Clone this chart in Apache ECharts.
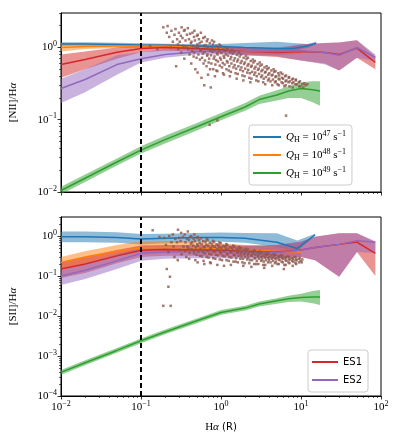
<!DOCTYPE html>
<html>
<head>
<meta charset="utf-8">
<script src="https://cdn.jsdelivr.net/npm/echarts@6/dist/echarts.min.js"></script>
<style>html,body{margin:0;padding:0;background:#fff}#chart{width:398px;height:443px}</style>
</head>
<body>
<div id="chart"></div>
<script>
// ---- axis ticks ----
var xTicks = [0.01, 0.1, 1, 10, 100];
var xMinor = [0.02,0.03,0.04,0.05,0.06,0.07,0.08,0.09,0.2,0.3,0.4,0.5,0.6,0.7,0.8,0.9,2,3,4,5,6,7,8,9,20,30,40,50,60,70,80,90];
var yTicksTop = [0.01, 0.1, 1];
var yMinorTop = [0.02,0.03,0.04,0.05,0.06,0.07,0.08,0.09,0.2,0.3,0.4,0.5,0.6,0.7,0.8,0.9,2,3];
var yTicksBot = [0.0001, 0.001, 0.01, 0.1, 1];
var yMinorBot = [0.0002,0.0003,0.0004,0.0005,0.0006,0.0007,0.0008,0.0009,0.002,0.003,0.004,0.005,0.006,0.007,0.008,0.009,
  0.02,0.03,0.04,0.05,0.06,0.07,0.08,0.09,0.2,0.3,0.4,0.5,0.6,0.7,0.8,0.9,2,3];
var dashX = 0.1;

// ---- top panel: [NII]/Ha ----
var nQ47x  = [0.01,0.02,0.05,0.1,0.2,0.5,1,2,5,8,12,15.5];
var nQ47   = [1.12,1.12,1.1,1.08,1.07,1.05,1.03,1.0,0.97,0.97,1.05,1.15];
var nQ47lo = [1.06,1.06,1.05,1.03,1.0,0.97,0.94,0.9,0.88,0.9,0.98,1.1];
var nQ47hi = [1.18,1.18,1.16,1.14,1.13,1.12,1.12,1.15,1.2,1.15,1.12,1.2];

var nQ48x  = [0.01,0.02,0.05,0.1,0.2,0.5,1,2,5,10];
var nQ48   = [1.0,1.03,1.05,1.05,1.05,1.0,0.95,0.88,0.85,0.88];
var nQ48lo = [0.88,0.95,0.98,0.99,0.98,0.93,0.87,0.8,0.78,0.82];
var nQ48hi = [1.15,1.12,1.1,1.1,1.1,1.08,1.05,1.0,0.97,0.98];

var nQ49x  = [0.01,0.02,0.05,0.1,0.2,0.5,1,2,3,5,7,10,14,17.3];
var nQ49   = [0.0105,0.0155,0.026,0.038,0.053,0.08,0.11,0.15,0.19,0.22,0.25,0.27,0.26,0.25];
var nQ49lo = [0.0093,0.0138,0.0232,0.034,0.047,0.071,0.098,0.133,0.165,0.185,0.2,0.2,0.175,0.156];
var nQ49hi = [0.0118,0.0174,0.029,0.043,0.06,0.09,0.124,0.17,0.215,0.255,0.29,0.33,0.34,0.34];

var nESx    = [0.01,0.02,0.05,0.1,0.2,0.5,1,2,5,10,20,30,50,85];
var nES1    = [0.58,0.68,0.86,0.97,1.0,0.97,0.93,0.88,0.85,0.88,0.85,0.8,0.98,0.62];
var nES1lo  = [0.38,0.5,0.7,0.86,0.9,0.88,0.83,0.78,0.74,0.66,0.6,0.48,0.72,0.5];
var nES1hi  = [0.8,0.88,1.0,1.08,1.1,1.06,1.02,0.98,0.96,1.1,1.15,1.17,1.26,0.75];
var nES2    = [0.27,0.36,0.58,0.7,0.8,0.87,0.89,0.88,0.88,0.9,0.85,0.78,1.0,0.73];
var nES2lo  = [0.17,0.24,0.42,0.62,0.72,0.8,0.8,0.78,0.76,0.66,0.58,0.48,0.72,0.65];
var nES2hi  = [0.37,0.5,0.78,0.86,0.95,0.98,1.0,1.0,1.0,1.1,1.15,1.17,1.26,0.8];

// ---- bottom panel: [SII]/Ha ----
var sQ47x  = [0.01,0.02,0.05,0.1,0.2,0.5,1,2,5,9,15];
var sQ47   = [0.96,0.96,0.92,0.84,0.88,0.92,0.92,0.88,0.7,0.49,1.08];
var sQ47lo = [0.7,0.7,0.68,0.62,0.66,0.7,0.72,0.68,0.53,0.42,1.0];
var sQ47hi = [1.3,1.3,1.25,1.12,1.15,1.2,1.22,1.2,1.17,0.78,1.15];

var sQ48x  = [0.01,0.02,0.05,0.1,0.2,0.5,1,2,5,10];
var sQ48   = [0.22,0.3,0.42,0.5,0.52,0.5,0.48,0.45,0.42,0.4];
var sQ48lo = [0.15,0.21,0.32,0.4,0.42,0.4,0.38,0.35,0.32,0.3];
var sQ48hi = [0.3,0.42,0.6,0.74,0.75,0.7,0.65,0.6,0.55,0.5];

var sQ49x  = [0.01,0.02,0.05,0.1,0.2,0.5,1,2,3,5,7,10,14,17.3];
var sQ49   = [0.00039,0.00068,0.00138,0.0024,0.004,0.0076,0.0123,0.0158,0.02,0.024,0.027,0.029,0.03,0.03];
var sQ49lo = [0.00034,0.00059,0.0012,0.0021,0.0035,0.0066,0.0107,0.0137,0.0172,0.0203,0.0225,0.0232,0.021,0.019];
var sQ49hi = [0.00045,0.00078,0.00158,0.00275,0.0046,0.0087,0.0141,0.018,0.0232,0.028,0.032,0.036,0.042,0.045];

var sESx   = [0.01,0.02,0.05,0.1,0.2,0.5,1,2,5,10,15,30,50,85];
var sES1   = [0.15,0.2,0.32,0.44,0.46,0.45,0.44,0.42,0.4,0.45,0.52,0.62,0.71,0.37];
var sES1lo = [0.09,0.12,0.21,0.3,0.32,0.32,0.31,0.3,0.28,0.3,0.25,0.096,0.4,0.1];
var sES1hi = [0.22,0.3,0.45,0.58,0.6,0.6,0.6,0.58,0.6,0.72,0.96,1.17,1.17,0.71];
var sES2   = [0.1,0.14,0.24,0.37,0.4,0.41,0.41,0.4,0.39,0.45,0.52,0.62,0.76,0.7];
var sES2lo = [0.06,0.085,0.15,0.24,0.27,0.28,0.28,0.27,0.27,0.3,0.25,0.096,0.4,0.38];
var sES2hi = [0.14,0.2,0.35,0.5,0.53,0.55,0.55,0.55,0.6,0.72,0.96,1.17,1.17,0.74];

// ---- observed points [Ha, ratio] ----
var nObs = [
[0.19,1.9],[0.21,1.6],[0.215,1.98],[0.225,1.4],[0.235,1.0],[0.24,1.7],[0.262,1.5],[0.25,1.2],
[0.27,1.8],[0.283,1.3],[0.29,1.1],[0.275,0.55],[0.298,1.6],[0.315,1.45],[0.305,1.2],[0.292,0.95],
[0.322,1.9],[0.345,1.7],[0.33,1.35],[0.338,1.05],[0.318,0.85],[0.352,1.75],[0.375,1.5],[0.36,1.25],[0.368,1.0],[0.348,0.7],
[0.385,1.85],[0.41,1.55],[0.398,1.3],[0.42,1.15],[0.39,0.95],[0.405,0.8],
[0.425,0.6],[0.455,0.75],[0.435,0.9],[0.448,1.05],[0.428,1.2],[0.46,1.4],[0.44,1.6],
[0.465,1.7],[0.5,1.45],[0.472,1.25],[0.505,1.1],[0.485,0.98],[0.462,0.85],[0.495,0.72],[0.478,0.5],
[0.51,0.45],[0.545,0.68],[0.522,0.8],[0.552,0.9],[0.515,1.02],[0.54,1.15],[0.53,1.3],[0.512,1.5],
[0.56,1.6],[0.6,1.35],[0.572,1.2],[0.61,1.05],[0.565,0.93],[0.592,0.82],[0.58,0.72],[0.605,0.6],[0.57,0.38],
[0.618,0.3],[0.66,0.55],[0.63,0.66],[0.67,0.77],[0.622,0.86],[0.652,0.96],[0.64,1.08],[0.665,1.22],[0.628,1.4],
[0.68,1.3],[0.725,1.15],[0.69,1.0],[0.735,0.9],[0.678,0.8],[0.712,0.7],[0.7,0.62],[0.73,0.5],[0.688,0.42],
[0.745,0.28],[0.8,0.5],[0.758,0.6],[0.81,0.7],[0.75,0.78],[0.785,0.87],[0.77,0.97],[0.795,1.1],[0.77,1.25],
[0.82,1.2],[0.88,1.05],[0.835,0.93],[0.89,0.83],[0.828,0.75],[0.868,0.67],[0.85,0.58],[0.875,0.48],[0.84,0.4],
[0.9,0.47],[0.965,0.56],[0.915,0.64],[0.975,0.72],[0.905,0.8],[0.945,0.88],[0.93,0.98],[0.955,1.1],
[0.99,1.05],[1.07,0.94],[1.01,0.84],[1.08,0.76],[1.0,0.68],[1.05,0.61],[1.03,0.53],[1.06,0.44],
[1.09,0.42],[1.17,0.5],[1.11,0.58],[1.185,0.65],[1.1,0.72],[1.15,0.8],[1.13,0.9],[1.165,1.0],
[1.2,0.95],[1.3,0.86],[1.225,0.77],[1.31,0.69],[1.21,0.62],[1.27,0.55],[1.25,0.48],[1.29,0.4],
[1.33,0.46],[1.43,0.53],[1.35,0.6],[1.445,0.66],[1.34,0.74],[1.4,0.82],[1.38,0.92],
[1.47,0.88],[1.58,0.79],[1.49,0.71],[1.595,0.64],[1.48,0.57],[1.545,0.51],[1.52,0.44],[1.57,0.37],
[1.62,0.43],[1.745,0.49],[1.65,0.55],[1.76,0.61],[1.635,0.68],[1.71,0.75],[1.68,0.85],
[1.78,0.8],[1.92,0.72],[1.815,0.65],[1.94,0.59],[1.8,0.53],[1.88,0.47],[1.85,0.41],[1.9,0.35],
[1.97,0.4],[2.13,0.45],[2.01,0.51],[2.15,0.56],[1.99,0.62],[2.08,0.69],[2.05,0.76],
[2.17,0.72],[2.35,0.65],[2.21,0.59],[2.37,0.54],[2.19,0.49],[2.3,0.44],[2.26,0.38],[2.33,0.33],
[2.4,0.37],[2.6,0.42],[2.45,0.46],[2.62,0.51],[2.42,0.56],[2.54,0.62],[2.5,0.68],
[2.65,0.65],[2.87,0.59],[2.7,0.54],[2.9,0.49],[2.68,0.45],[2.8,0.4],[2.76,0.35],
[2.93,0.34],[3.17,0.39],[2.99,0.43],[3.2,0.47],[2.96,0.51],[3.1,0.56],[3.05,0.62],
[3.24,0.58],[3.5,0.53],[3.3,0.49],[3.54,0.45],[3.27,0.41],[3.42,0.37],[3.37,0.33],
[3.57,0.31],[3.87,0.35],[3.65,0.39],[3.9,0.42],[3.61,0.46],[3.78,0.5],[3.72,0.55],
[3.94,0.52],[4.26,0.48],[4.02,0.44],[4.3,0.41],[3.98,0.37],[4.16,0.34],
[4.37,0.3],[4.73,0.33],[4.46,0.36],[4.78,0.39],[4.41,0.42],[4.62,0.46],[4.55,0.5],
[4.8,0.47],[5.2,0.44],[4.9,0.4],[5.25,0.37],[4.85,0.34],[5.08,0.31],
[5.28,0.3],[5.72,0.33],[5.39,0.36],[5.78,0.38],[5.34,0.41],[5.58,0.45],
[5.86,0.43],[6.34,0.4],[5.98,0.37],[6.4,0.34],[5.92,0.32],[6.2,0.29],
[6.43,0.3],[6.97,0.33],[6.57,0.35],[7.03,0.38],[6.5,0.41],
[7.1,0.39],[7.7,0.36],[7.25,0.34],[7.77,0.32],[7.18,0.29],
[7.87,0.28],[8.53,0.31],[8.04,0.33],[8.6,0.35],[7.95,0.37],
[8.64,0.36],[9.36,0.33],[8.82,0.31],[9.45,0.29],
[9.7,0.34],[10.4,0.31],[9.85,0.29],[11,0.32],[11.4,0.3],[12,0.31],[10.7,0.28],
[6.5,0.114],[0.72,0.085],[0.9,0.098],[0.13,1.05],[0.16,0.95]
];
var sObs = [
[0.14,1.4],[0.29,1.44],[0.17,0.95],[0.195,0.9],[0.205,0.6],[0.21,0.15],
[0.225,1.0],[0.24,0.7],[0.22,0.4],[0.23,0.096],[0.22,0.054],[0.235,0.018],[0.19,0.018],
[0.25,1.1],[0.268,0.85],[0.255,0.55],[0.262,0.3],
[0.3,0.9],[0.282,0.7],[0.308,0.45],[0.288,0.25],
[0.318,1.2],[0.335,0.95],[0.312,0.75],[0.34,0.55],[0.322,0.35],
[0.352,1.1],[0.375,0.85],[0.36,0.7],[0.38,0.55],[0.356,0.42],[0.368,0.3],
[0.385,1.3],[0.41,0.95],[0.398,0.8],[0.42,0.65],[0.39,0.5],[0.405,0.38],[0.4,0.27],
[0.425,1.0],[0.455,0.85],[0.435,0.7],[0.448,0.58],[0.428,0.47],[0.46,0.37],
[0.465,1.1],[0.5,0.9],[0.472,0.75],[0.505,0.62],[0.485,0.52],[0.462,0.43],[0.495,0.34],[0.478,0.25],
[0.51,0.22],[0.545,0.32],[0.522,0.4],[0.552,0.48],[0.515,0.57],[0.54,0.67],[0.53,0.8],[0.512,0.95],
[0.56,0.88],[0.6,0.74],[0.572,0.63],[0.61,0.54],[0.565,0.46],[0.592,0.39],[0.58,0.31],[0.605,0.24],
[0.618,0.2],[0.66,0.3],[0.63,0.37],[0.67,0.44],[0.622,0.52],[0.652,0.61],[0.64,0.72],[0.665,0.85],
[0.68,0.8],[0.725,0.68],[0.69,0.58],[0.735,0.5],[0.678,0.43],[0.712,0.36],[0.7,0.29],[0.73,0.22],
[0.745,0.21],[0.8,0.28],[0.758,0.35],[0.81,0.41],[0.75,0.48],[0.785,0.56],[0.77,0.65],[0.795,0.76],
[0.82,0.72],[0.88,0.62],[0.835,0.54],[0.89,0.46],[0.828,0.4],[0.868,0.34],[0.85,0.27],
[0.9,0.19],[0.965,0.26],[0.915,0.33],[0.975,0.39],[0.905,0.45],[0.945,0.52],[0.93,0.6],[0.955,0.7],
[0.99,0.66],[1.07,0.57],[1.01,0.5],[1.08,0.43],[1.0,0.37],[1.05,0.32],[1.03,0.25],
[1.09,0.18],[1.17,0.25],[1.11,0.31],[1.185,0.36],[1.1,0.42],[1.15,0.48],[1.13,0.55],[1.165,0.63],
[1.2,0.6],[1.3,0.52],[1.225,0.46],[1.31,0.4],[1.21,0.35],[1.27,0.3],[1.25,0.24],
[1.33,0.19],[1.43,0.23],[1.35,0.29],[1.445,0.34],[1.34,0.39],[1.4,0.44],[1.38,0.5],[1.42,0.58],
[1.47,0.55],[1.58,0.48],[1.49,0.43],[1.595,0.38],[1.48,0.33],[1.545,0.28],[1.52,0.23],
[1.62,0.22],[1.745,0.27],[1.65,0.32],[1.76,0.36],[1.635,0.41],[1.71,0.47],[1.68,0.53],
[1.78,0.5],[1.92,0.45],[1.815,0.4],[1.94,0.35],[1.8,0.31],[1.88,0.27],[1.85,0.22],[1.9,0.18],
[1.97,0.21],[2.13,0.26],[2.01,0.3],[2.15,0.34],[1.99,0.38],[2.08,0.43],[2.05,0.48],
[2.17,0.46],[2.35,0.41],[2.21,0.37],[2.37,0.33],[2.19,0.29],[2.3,0.25],[2.26,0.21],
[2.4,0.17],[2.6,0.2],[2.45,0.25],[2.62,0.28],[2.42,0.32],[2.54,0.36],[2.5,0.4],[2.58,0.44],
[2.65,0.42],[2.87,0.38],[2.7,0.34],[2.9,0.31],[2.68,0.28],[2.8,0.24],[2.76,0.2],
[2.93,0.2],[3.17,0.24],[2.99,0.27],[3.2,0.3],[2.96,0.33],[3.1,0.37],[3.05,0.41],
[3.24,0.39],[3.5,0.35],[3.3,0.32],[3.54,0.29],[3.27,0.26],[3.42,0.23],[3.37,0.19],[3.47,0.16],
[3.57,0.19],[3.87,0.22],[3.65,0.25],[3.9,0.28],[3.61,0.31],[3.78,0.34],[3.72,0.37],
[3.94,0.36],[4.26,0.33],[4.02,0.3],[4.3,0.27],[3.98,0.25],[4.16,0.22],
[4.37,0.18],[4.73,0.21],[4.46,0.24],[4.78,0.27],[4.41,0.29],[4.62,0.32],[4.55,0.35],
[4.8,0.34],[5.2,0.31],[4.9,0.28],[5.25,0.26],[4.85,0.23],[5.08,0.2],
[5.28,0.2],[5.72,0.23],[5.39,0.25],[5.78,0.28],[5.34,0.3],[5.58,0.33],
[5.86,0.32],[6.34,0.29],[5.98,0.27],[6.4,0.25],[5.92,0.22],[6.2,0.19],[6.1,0.15],
[6.43,0.19],[6.97,0.22],[6.57,0.24],[7.03,0.26],[6.5,0.29],[6.8,0.31],
[7.1,0.3],[7.7,0.28],[7.25,0.26],[7.77,0.24],[7.18,0.21],
[7.87,0.18],[8.53,0.21],[8.04,0.23],[8.6,0.25],[7.95,0.27],[8.3,0.3],
[8.64,0.29],[9.36,0.27],[8.82,0.25],[9.45,0.22],[8.7,0.2],
[9.7,0.28],[10.4,0.26],[9.85,0.24],[10.2,0.22]
];

var C = {Q47: '#1f77b4', Q48: '#ff7f0e', Q49: '#2ca02c', ES1: '#d62728', ES2: '#9467bd', obs: '#8c564b'};
var serif = "'Liberation Serif', 'DejaVu Serif', serif";
var sans = "'DejaVu Sans', sans-serif";

function pts(xs, ys) {
    return xs.map(function (x, i) { return [x, ys[i]]; });
}
function rgba(hex, a) {
    var n = parseInt(hex.slice(1), 16);
    return 'rgba(' + (n >> 16) + ',' + ((n >> 8) & 255) + ',' + (n & 255) + ',' + a + ')';
}

// shaded range drawn as one polygon through the axis scales
function band(gi, xs, lo, hi, color) {
    return {
        type: 'custom', xAxisIndex: gi * 2, yAxisIndex: gi * 2, silent: true, z: 2,
        data: xs.map(function (x, i) { return [x, lo[i], hi[i]]; }),
        encode: {x: 0, y: 1},
        renderItem: function (params, api) {
            if (params.dataIndex !== 0) return;
            var up = [], dn = [];
            for (var i = 0; i < xs.length; i++) {
                up.push(api.coord([xs[i], hi[i]]));
                dn.push(api.coord([xs[i], lo[i]]));
            }
            return {type: 'polygon', shape: {points: up.concat(dn.reverse())},
                style: {fill: rgba(color, 0.5), stroke: null}};
        }
    };
}
function line(gi, name, xs, ys) {
    return {
        type: 'line', name: name, xAxisIndex: gi * 2, yAxisIndex: gi * 2, z: 2,
        data: pts(xs, ys), symbol: 'none', silent: true,
        lineStyle: {color: C[name], width: 1.5}, itemStyle: {color: C[name]}
    };
}
function obs(gi, data) {
    return {
        type: 'scatter', xAxisIndex: gi * 2, yAxisIndex: gi * 2, z: 3, silent: true,
        data: data, symbol: 'rect', symbolSize: 2.5, itemStyle: {color: C.obs},
        markLine: {
            silent: true, symbol: 'none', animation: false, z: 10,
            label: {show: false},
            lineStyle: {color: '#000', width: 2, type: [5, 3]},
            data: [{xAxis: dashX}]
        }
    };
}

var supRich = {
    b: {fontFamily: serif, fontSize: 11, color: '#000', lineHeight: 15},
    s: {fontFamily: serif, fontSize: 8, color: '#000', verticalAlign: 'top', lineHeight: 9}
};
function pow10(v) {
    var e = Math.round(Math.log10(v));
    return '{b|10}{s|' + (e < 0 ? '\u2212' + (-e) : e) + '}';
}

function xAxes(gi, labels) {
    var base = {type: 'log', logBase: 10, gridIndex: gi, min: 0.01, max: 100, position: 'bottom', splitLine: {show: false}};
    return [
        Object.assign({}, base, {
            axisLine: {show: true, lineStyle: {color: '#000', width: 1}},
            axisTick: {show: true, customValues: xTicks, length: 3.5, lineStyle: {color: '#000', width: 0.8}},
            axisLabel: {show: labels, customValues: xTicks, formatter: pow10, rich: supRich, margin: 4},
            name: labels ? '{r|H}{i|\u03b1}{s| (R)}' : '',
            nameLocation: 'middle', nameGap: 26,
            nameTextStyle: {rich: {
                r: {fontFamily: serif, fontSize: 11, color: '#000'},
                i: {fontFamily: serif, fontSize: 11, fontStyle: 'italic', color: '#000'},
                s: {fontFamily: sans, fontSize: 10, color: '#000'}
            }}
        }),
        Object.assign({}, base, {
            axisLine: {show: false},
            axisTick: {show: true, customValues: xMinor, length: 2, lineStyle: {color: '#000', width: 0.6}},
            axisLabel: {show: false}
        })
    ];
}
function yAxes(gi, min, max, ticks, minor, label) {
    var base = {type: 'log', logBase: 10, gridIndex: gi, min: min, max: max, position: 'left', splitLine: {show: false}};
    return [
        Object.assign({}, base, {
            axisLine: {show: true, lineStyle: {color: '#000', width: 1}},
            axisTick: {show: true, customValues: ticks, length: 3.5, lineStyle: {color: '#000', width: 0.8}},
            axisLabel: {customValues: ticks, formatter: pow10, rich: supRich, margin: 4},
            name: label, nameLocation: 'middle', nameRotate: 90, nameGap: 42,
            nameTextStyle: {rich: {
                r: {fontFamily: serif, fontSize: 11, color: '#000'},
                i: {fontFamily: serif, fontSize: 11, fontStyle: 'italic', color: '#000'}
            }}
        }),
        Object.assign({}, base, {
            axisLine: {show: false},
            axisTick: {show: true, customValues: minor, length: 2, lineStyle: {color: '#000', width: 0.6}},
            axisLabel: {show: false}
        })
    ];
}

var qExp = {Q47: '47', Q48: '48', Q49: '49'};

var chart = echarts.init(document.getElementById('chart'));
chart.setOption({
    animation: false,
    backgroundColor: '#fff',
    grid: [
        {left: 61, top: 13, width: 320, height: 179, show: true, borderColor: '#000', borderWidth: 1},
        {left: 61, top: 217, width: 320, height: 179, show: true, borderColor: '#000', borderWidth: 1}
    ],
    xAxis: xAxes(0, false).concat(xAxes(1, true)),
    yAxis: yAxes(0, 0.01, 3, yTicksTop, yMinorTop, '{r|[NII]/H}{i|\u03b1}')
        .concat(yAxes(1, 0.0001, 3, yTicksBot, yMinorBot, '{r|[SII]/H}{i|\u03b1}')),
    legend: [
        {
            data: ['Q47', 'Q48', 'Q49'], orient: 'vertical', left: 249, top: 125,
            icon: 'rect', itemWidth: 28, itemHeight: 2, itemGap: 4,
            backgroundColor: 'rgba(255,255,255,0.85)', borderColor: '#ccc', borderWidth: 1, borderRadius: 3,
            padding: [5, 6, 5, 4],
            formatter: function (name) {
                return '{i|Q}{sub|H}{r| = 10}{sup|' + qExp[name] + '}{r| s}{sup|\u22121}';
            },
            textStyle: {rich: {
                i: {fontFamily: serif, fontStyle: 'italic', fontSize: 11, color: '#000', lineHeight: 14},
                sub: {fontFamily: serif, fontSize: 8, color: '#000', verticalAlign: 'bottom', lineHeight: 8},
                r: {fontFamily: serif, fontSize: 11, color: '#000', lineHeight: 14},
                sup: {fontFamily: serif, fontSize: 8, color: '#000', verticalAlign: 'top', lineHeight: 8}
            }}
        },
        {
            data: ['ES1', 'ES2'], orient: 'vertical', left: 308, top: 350,
            icon: 'rect', itemWidth: 26, itemHeight: 2, itemGap: 4,
            backgroundColor: 'rgba(255,255,255,0.85)', borderColor: '#ccc', borderWidth: 1, borderRadius: 3,
            padding: [5, 6, 5, 4],
            textStyle: {fontFamily: sans, fontSize: 10, color: '#000', lineHeight: 14}
        }
    ],
    series: [
        band(0, nQ47x, nQ47lo, nQ47hi, C.Q47), line(0, 'Q47', nQ47x, nQ47),
        band(0, nQ48x, nQ48lo, nQ48hi, C.Q48), line(0, 'Q48', nQ48x, nQ48),
        band(0, nQ49x, nQ49lo, nQ49hi, C.Q49), line(0, 'Q49', nQ49x, nQ49),
        band(0, nESx, nES1lo, nES1hi, C.ES1), line(0, 'ES1', nESx, nES1),
        band(0, nESx, nES2lo, nES2hi, C.ES2), line(0, 'ES2', nESx, nES2),
        obs(0, nObs),
        band(1, sQ47x, sQ47lo, sQ47hi, C.Q47), line(1, 'Q47', sQ47x, sQ47),
        band(1, sQ48x, sQ48lo, sQ48hi, C.Q48), line(1, 'Q48', sQ48x, sQ48),
        band(1, sQ49x, sQ49lo, sQ49hi, C.Q49), line(1, 'Q49', sQ49x, sQ49),
        band(1, sESx, sES1lo, sES1hi, C.ES1), line(1, 'ES1', sESx, sES1),
        band(1, sESx, sES2lo, sES2hi, C.ES2), line(1, 'ES2', sESx, sES2),
        obs(1, sObs)
    ]
});
</script>
</body>
</html>
